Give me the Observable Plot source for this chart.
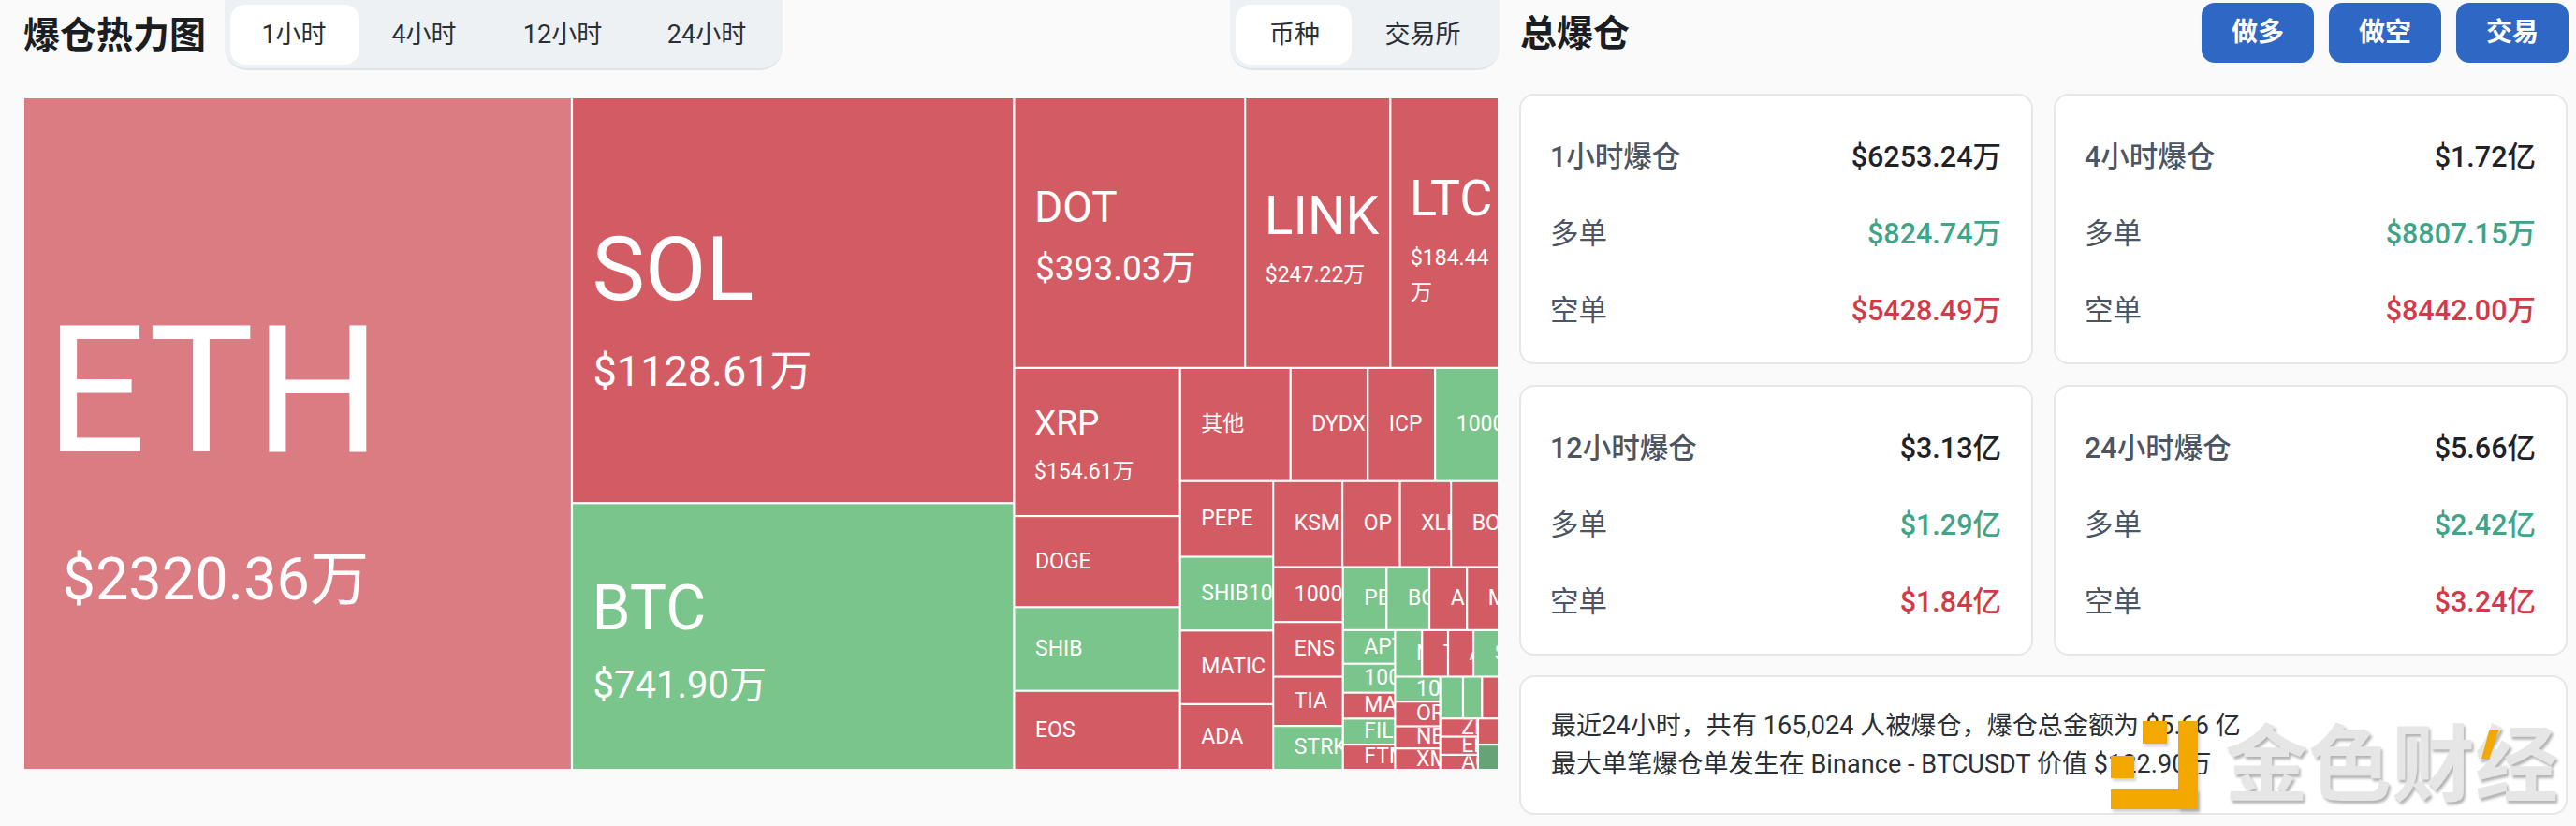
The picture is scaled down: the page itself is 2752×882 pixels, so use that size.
<!DOCTYPE html>
<html lang="zh">
<head>
<meta charset="utf-8">
<script src="https://cdn.jsdelivr.net/npm/d3@7"></script>
<script src="https://cdn.jsdelivr.net/npm/@observablehq/plot@0.6"></script>
<style>
html,body{margin:0;padding:0;background:#fafafa;width:2752px;height:882px;overflow:hidden;
  font-family:Roboto,"Noto Sans CJK SC",sans-serif;color:#1f2329}
.abs{position:absolute}
.title{font-size:39px;font-weight:700;line-height:44px;color:#1a1d21;white-space:nowrap}
.tabs{background:#eef1f4;border-bottom:2px solid #e2e5e8;border-radius:0 0 24px 24px;box-sizing:border-box}
.active{background:#fff;border-radius:16px}
.tab{font-size:27px;line-height:32px;color:#2a2f36;transform:translateX(-50%);white-space:nowrap}
.btn{background:#2f68c4;border-radius:14px;color:#fff;font-size:28px;font-weight:700;text-align:center;line-height:64px;width:120px;height:64px;top:3px}
.card{background:#fff;border:2px solid #e5e7e9;border-radius:16px;box-sizing:border-box}
.row{font-size:30.5px;line-height:36px;white-space:nowrap}
.lab{color:#4b5563}
.head{font-weight:500}
.val{transform:translateX(-100%);font-weight:500}
.note{font-size:27px;line-height:32px;white-space:nowrap;color:#2a2f36;letter-spacing:.07px}
#chart{position:absolute;left:26px;top:105px}
#chart svg{display:block}
.wm{font-size:89px;font-weight:700;line-height:89px;color:#e6e6e6;text-shadow:2px 3px 3px rgba(0,0,0,.3);white-space:nowrap}
.gold{background:#f3a800;box-shadow:2px 3px 3px rgba(0,0,0,.18)}
</style>
</head>
<body>
<script>
// Liquidation heatmap, 1 hour, amounts in 万 USD
const coinNames = ["ETH","SOL","BTC","DOT","LINK","LTC","XRP","DOGE","SHIB","EOS","其他","DYDX","ICP","1000SATS","PEPE","SHIB1000","MATIC","ADA","KSM","OP","XLM","BOME","1000FLOKI","ENS","TIA","STRK","PEOPLE","BCH","ARB","MKR","APT","1000BONK","MANA","FIL","FTM","NOT","TON","AVAX","SUI","1000PEPE","ORDI","NEAR","XMR","W","WIF","ETC","ZEC","ENA","ACE","SEI","JUP"];
const coinValues = [2320.36,1128.61,741.90,393.03,247.22,184.44,154.61,95.0,87.4,82.5,78.6,55.0,47.9,45.3,44.3,43.2,43.1,38.5,37.4,31.1,27.6,25.8,24.1,24.0,21.6,19.3,17.3,17.0,14.9,12.6,11.0,9.5,8.5,8.5,8.3,7.9,7.6,7.4,7.4,7.1,7.0,6.3,6.1,6.0,5.0,4.4,4.3,4.3,3.6,3.4,3.3];
const coinSides = ["paleShort","short","long","short","short","short","short","short","long","short","short","short","short","long","short","long","short","short","short","short","short","short","short","short","short","long","long","long","short","short","long","long","short","long","short","long","short","short","long","long","short","short","short","long","long","short","short","short","short","short","deepLong"];
const sideDomain = ["paleShort","short","long","deepLong"];
const sideColors = ["#db7b82","#d35c64","#7ac58b","#66a377"];

const periodNames = ["1小时","4小时","12小时","24小时"];
const groupNames = ["币种","交易所"];
const actionNames = ["做多","做空","交易"];
const totalLabels = ["1小时爆仓","4小时爆仓","12小时爆仓","24小时爆仓"];
const totalValues = ["$6253.24万","$1.72亿","$3.13亿","$5.66亿"];
const longValues = ["$824.74万","$8807.15万","$1.29亿","$2.42亿"];
const shortValues = ["$5428.49万","$8442.00万","$1.84亿","$3.24亿"];
const noteLines = ["最近24小时，共有 165,024 人被爆仓，爆仓总金额为 $5.66 亿","最大单笔爆仓单发生在 Binance - BTCUSDT 价值 $122.90万"];

const W = 1574, H = 716;
const root = d3.hierarchy({children: coinNames.map((name,i)=>({name,value:coinValues[i],side:coinSides[i]}))}).sum(d=>d.value||0);
d3.treemap().size([W,H]).paddingInner(2.2).tile(d3.treemapSquarify)(root);
const cells = root.leaves().map(n=>({...n.data,x0:n.x0,x1:n.x1,y0:n.y0,y1:n.y1}));

// label styling per large cell
const style = {
  ETH:{size:190,vsize:63,inset:22,vinset:40,dy:-42,vdy:156},
  SOL:{size:95,vsize:45,inset:20,vinset:21,dy:-31,vdy:77},
  BTC:{size:66,vsize:40,inset:20,vinset:21,dy:-29,vdy:52},
  DOT:{size:46,vsize:37,inset:20,vinset:21,dy:-27,vdy:38},
  LINK:{size:57,vsize:23,inset:19,vinset:20,dy:-17,vdy:44.5},
  LTC:{size:54,vsize:23,inset:19,vinset:20,dy:-36,vdy:26.5,wrapDy:37},
  XRP:{size:37,vsize:23,inset:20,vinset:20,dy:-20,vdy:31}
};
const base = {size:23,inset:21,dy:-1};
const st = d=>style[d.name]||base;
const mid = d=>(d.y0+d.y1)/2;
const valueLines = cells.filter(d=>style[d.name]).flatMap(d=>{
  const s=st(d), text="$"+d.value.toFixed(2)+"万";
  return s.wrapDy ? [{...d,line:text.slice(0,-1),ly:s.vdy},{...d,line:"万",ly:s.vdy+s.wrapDy}] : [{...d,line:text,ly:s.vdy}];
});

// keep each label inside its own cell
function clipToCell(data){
  return function(index,scales,values,dims,ctx,next){
    const g = next(index,scales,values,dims,ctx);
    const ns = "http://www.w3.org/2000/svg";
    const texts = g.querySelectorAll("text");
    index.forEach((i,k)=>{
      const d = data[i], id = "c"+Math.random().toString(36).slice(2);
      const cp = document.createElementNS(ns,"clipPath"); cp.setAttribute("id",id);
      const r = document.createElementNS(ns,"rect");
      r.setAttribute("x",scales.x(d.x0)); r.setAttribute("y",scales.y(d.y0));
      r.setAttribute("width",scales.x(d.x1)-scales.x(d.x0)); r.setAttribute("height",scales.y(d.y1)-scales.y(d.y0));
      cp.appendChild(r);
      const w = document.createElementNS(ns,"g"); w.setAttribute("clip-path",`url(#${id})`);
      const t = texts[k]; t.parentNode.insertBefore(w,t); w.appendChild(cp); w.appendChild(t);
    });
    return g;
  };
}

const plot = Plot.plot({
  width:W,height:H,margin:0,
  x:{domain:[0,W],range:[0,W],axis:null},
  y:{domain:[0,H],range:[0,H],axis:null},
  color:{type:"ordinal",domain:sideDomain,range:sideColors},
  style:{background:"#fff",fontFamily:'Roboto,"Noto Sans CJK SC",sans-serif'},
  marks:[
    Plot.rect(cells,{x1:"x0",x2:"x1",y1:"y0",y2:"y1",fill:"side"}),
    Plot.text(cells,{x:d=>d.x0+st(d).inset,y:d=>mid(d)+st(d).dy,text:"name",fontSize:d=>st(d).size,fill:"#fff",textAnchor:"start",lineAnchor:"middle",render:clipToCell(cells)}),
    Plot.text(valueLines,{x:d=>d.x0+st(d).vinset,y:d=>mid(d)+d.ly,text:"line",fontSize:d=>st(d).vsize,fill:"#fff",textAnchor:"start",lineAnchor:"middle",render:clipToCell(valueLines)})
  ]
});
const holder = document.createElement("div"); holder.id="chart"; holder.appendChild(plot); document.body.appendChild(holder);

// page furniture
const add = (cls,css,html="")=>{const e=document.createElement("div");e.className="abs "+cls;e.style.cssText=css;e.innerHTML=html;document.body.appendChild(e);return e;};
add("title","left:25px;top:16px","爆仓热力图");
add("title","left:1624px;top:14px","总爆仓");
add("tabs","left:240px;top:0;width:596px;height:75px");
add("active","left:246px;top:5px;width:138px;height:64px");
[314,453,601,755].forEach((x,i)=>add("tab",`left:${x}px;top:21px`,periodNames[i]));
add("tabs","left:1314px;top:0;width:288px;height:75px");
add("active","left:1320px;top:5px;width:124px;height:64px");
[1383,1520].forEach((x,i)=>add("tab",`left:${x}px;top:21px`,groupNames[i]));
[2352,2488,2624].forEach((x,i)=>add("btn",`left:${x}px`,actionNames[i]));

const colX=[1623,2194], rowY=[100,411];
periodNames.forEach((_,i)=>{
  const left=colX[i%2], top=rowY[i>>1];
  const cardW = i%2 ? 549 : 549;
  add("card",`left:${left}px;top:${top}px;width:${cardW}px;height:289px`);
  const lx=left+33, rx=left+515;
  const ys=[top+50,top+132,top+214];
  const labels=[totalLabels[i],"多单","空单"], vals=[totalValues[i],longValues[i],shortValues[i]], cols=["#1f2329","#3fa488","#d33a48"];
  ys.forEach((y,j)=>{
    add("row lab"+(j==0?" head":""),`left:${lx}px;top:${y}px`,labels[j]);
    add("row val",`left:${rx}px;top:${y}px;color:${cols[j]}`,vals[j]);
  });
});
add("card","left:1623px;top:721px;width:1120px;height:149px");
noteLines.forEach((t,i)=>add("note",`left:1657px;top:${[759,800][i]}px`,t));

// watermark
add("gold","left:2289px;top:770px;width:26px;height:24px");
add("gold","left:2255px;top:807px;width:25px;height:24px");
add("gold","left:2327px;top:770px;width:21px;height:94px");
add("gold","left:2255px;top:843px;width:93px;height:21px");
add("wm","left:2377px;top:773px","金色财经");
add("","left:2651px;top:779px;width:19px;height:31px;background:#f3a800;clip-path:polygon(45% 0,100% 0,45% 100%,0 100%)");
</script>
</body>
</html>
